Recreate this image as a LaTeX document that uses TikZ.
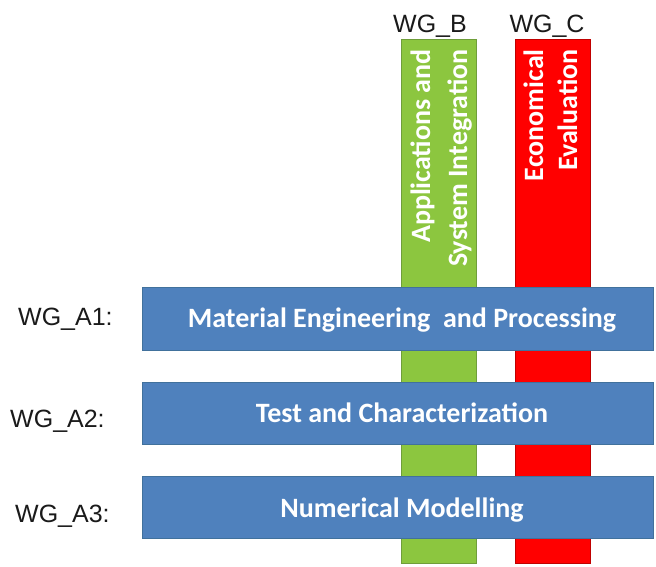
\documentclass[tikz,border=0pt]{standalone}
\usepackage{fontspec}
\setmainfont{Liberation Sans}
\newfontfamily\carlito{Carlito}
\definecolor{wgblue}{HTML}{4F81BD}
\definecolor{wgblueline}{HTML}{41719C}
\definecolor{wggreen}{HTML}{8CC63F}
\definecolor{wggreenline}{HTML}{6F9E3A}
\definecolor{wgred}{HTML}{FF0000}
\definecolor{wgredline}{HTML}{C00000}
\definecolor{labeltext}{HTML}{1A1A1A}
\begin{document}
\begin{tikzpicture}[x=1pt,y=-1pt,
  barbox/.style={rectangle, inner sep=0pt, outer sep=0pt, anchor=north west, line width=0.8pt},
  vbar/.style={barbox, minimum width=75pt, minimum height=524pt},
  hbar/.style={barbox, draw=wgblueline, fill=wgblue, minimum width=511pt},
  bartext/.style={text=white, font=\carlito\bfseries\fontsize{28}{34}\selectfont, inner sep=0pt},
  vtext/.style={bartext, rotate=90, anchor=base east},
  htext/.style={bartext, anchor=base},
  wglabel/.style={text=labeltext, font=\fontsize{25}{30}\selectfont, inner sep=0pt}
]
\useasboundingbox (0,0) rectangle (656,566);

% vertical bars
\node[vbar, draw=wggreenline, fill=wggreen] (barB) at (401,39) {};
\node[vbar, draw=wgredline, fill=wgred] (barC) at (515,39) {};

\node[vtext] (tB1) at (430,49) {Applications and};
\node[vtext] (tB2) at (467,49) {System Integration};
\node[vtext] (tC1) at (543,49) {Economical};
\node[vtext] (tC2) at (577,49) {Evaluation};

\node[wglabel, anchor=base] (lB) at (430,32) {WG\_B};
\node[wglabel, anchor=base] (lC) at (547,32) {WG\_C};

% horizontal bars
\node[hbar, minimum height=63pt] (barA1) at (142,287) {};
\node[hbar, minimum height=62pt] (barA2) at (142,382) {};
\node[hbar, minimum height=62pt] (barA3) at (142,476) {};

\node[htext] (tA1) at (402,327) {Material Engineering\ \ and Processing};
\node[htext] (tA2) at (402,422) {Test and Characterization};
\node[htext] (tA3) at (402,517) {Numerical Modelling};

\node[wglabel, anchor=base west] (lA1) at (18,325) {WG\_A1:};
\node[wglabel, anchor=base west] (lA2) at (10,427) {WG\_A2:};
\node[wglabel, anchor=base west] (lA3) at (15,522) {WG\_A3:};
\end{tikzpicture}
\end{document}
